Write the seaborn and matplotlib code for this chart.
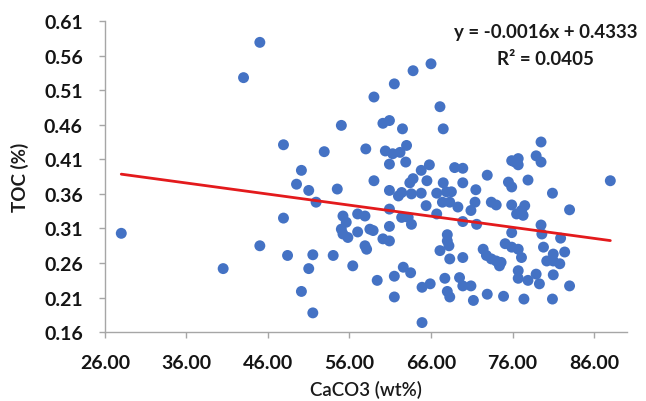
import matplotlib
matplotlib.use("Agg")
import matplotlib.pyplot as plt
import numpy as np
import pandas as pd
import seaborn as sns

# CaCO3 content (wt%) of each sample
caco3 = [
    28.0, 40.5, 43.0, 45.0, 45.0, 47.9, 47.9, 48.4, 49.5, 50.1,
    50.1, 51.0, 51.0, 51.5, 51.5, 51.9, 52.9, 54.0, 54.5, 55.0,
    55.2, 55.6, 55.0, 55.2, 55.8, 56.4, 57.0, 57.9, 57.0, 58.0,
    58.5, 58.9, 57.9, 58.1, 59.0, 59.0, 59.4, 60.1, 60.9, 60.1,
    60.9, 60.4, 61.3, 62.2, 63.0, 60.9, 60.9, 60.9, 60.9, 61.5,
    61.5, 61.5, 62.0, 62.4, 62.4, 63.2, 63.6, 62.5, 62.6, 63.5,
    62.9, 63.8, 63.8, 63.4, 63.6, 64.8, 64.8, 64.9, 64.9, 65.5,
    65.4, 65.8, 65.9, 66.0, 66.7, 66.7, 67.1, 67.1, 67.5, 67.5,
    67.7, 67.9, 67.4, 68.0, 68.0, 68.2, 68.3, 68.0, 68.3, 68.5,
    68.3, 68.9, 69.3, 69.5, 69.9, 69.9, 69.9, 69.9, 69.9, 70.9,
    70.9, 71.2, 71.4, 71.5, 71.6, 72.4, 72.8, 72.9, 72.9, 73.4,
    73.4, 74.0, 74.0, 74.6, 74.4, 74.9, 75.1, 75.5, 75.9, 75.9,
    75.9, 75.9, 75.9, 76.3, 76.5, 76.7, 76.7, 76.7, 76.7, 76.7,
    77.1, 77.1, 77.3, 77.4, 77.5, 77.9, 77.9, 78.9, 78.9, 79.3,
    79.5, 79.5, 79.5, 79.6, 79.8, 80.2, 80.9, 80.9, 81.0, 81.0,
    81.0, 81.8, 81.9, 82.4, 83.0, 83.0, 88.0,
]

# Total organic carbon (%) of the same samples
toc = [
    0.303, 0.252, 0.528, 0.579, 0.285, 0.431, 0.325, 0.271, 0.374, 0.394,
    0.219, 0.365, 0.252, 0.272, 0.188, 0.348, 0.421, 0.271, 0.367, 0.459,
    0.328, 0.319, 0.309, 0.302, 0.297, 0.256, 0.331, 0.328, 0.305, 0.425,
    0.309, 0.307, 0.285, 0.280, 0.500, 0.379, 0.235, 0.462, 0.466, 0.295,
    0.292, 0.422, 0.418, 0.420, 0.430, 0.403, 0.365, 0.338, 0.313, 0.519,
    0.241, 0.211, 0.357, 0.362, 0.326, 0.326, 0.316, 0.454, 0.254, 0.246,
    0.406, 0.538, 0.382, 0.376, 0.360, 0.394, 0.361, 0.225, 0.174, 0.379,
    0.343, 0.402, 0.230, 0.548, 0.361, 0.331, 0.486, 0.278, 0.454, 0.376,
    0.238, 0.363, 0.348, 0.301, 0.292, 0.285, 0.266, 0.219, 0.211, 0.363,
    0.348, 0.398, 0.341, 0.239, 0.397, 0.376, 0.320, 0.268, 0.227, 0.227,
    0.336, 0.206, 0.348, 0.366, 0.316, 0.280, 0.271, 0.387, 0.215, 0.348,
    0.266, 0.344, 0.263, 0.261, 0.256, 0.212, 0.288, 0.377, 0.408, 0.370,
    0.344, 0.304, 0.283, 0.406, 0.331, 0.411, 0.402, 0.280, 0.249, 0.238,
    0.336, 0.268, 0.329, 0.208, 0.343, 0.380, 0.235, 0.415, 0.244, 0.230,
    0.435, 0.406, 0.315, 0.302, 0.283, 0.263, 0.361, 0.208, 0.273, 0.263,
    0.243, 0.259, 0.296, 0.276, 0.337, 0.227, 0.379,
]

# Linear trend line as reported
slope = -0.0016
intercept = 0.4333
r_squared = 0.0405

x_ticks = [26, 36, 46, 56, 66, 76, 86]
y_ticks = [0.16, 0.21, 0.26, 0.31, 0.36, 0.41, 0.46, 0.51, 0.56, 0.61]

sns.set_style("white")
plt.rcParams["font.family"] = ["Lato", "DejaVu Sans"]

df = pd.DataFrame({"CaCO3": caco3, "TOC": toc})

fig = plt.figure(figsize=(6.46, 4.02), dpi=100)
ax = fig.add_axes([0.1625, 0.171, 0.8075, 0.7745])

sns.scatterplot(data=df, x="CaCO3", y="TOC", ax=ax, color="#4472C4",
                s=62, edgecolor="none", linewidth=0, zorder=3)

xs = np.array([min(caco3), max(caco3)])
ax.plot(xs, slope * xs + intercept, color="#E31A1C", lw=2.0, zorder=4)

ax.set_xlim(26, 90)
ax.set_ylim(0.16, 0.61)
ax.set_xticks(x_ticks)
ax.set_yticks(y_ticks)
ax.set_xticklabels([f"{v:.2f}" for v in x_ticks])
ax.set_yticklabels([f"{v:.2f}" for v in y_ticks])

for lab in ax.get_xticklabels() + ax.get_yticklabels():
    lab.set_fontweight("bold")
    lab.set_fontsize(14)
    lab.set_color("#141414")

ax.tick_params(axis="both", which="major", length=4, width=1,
               color="#A6A6A6", direction="out", pad=12,
               bottom=True, left=True)

for side in ["top", "right"]:
    ax.spines[side].set_visible(False)
for side in ["left", "bottom"]:
    ax.spines[side].set_color("#A6A6A6")
    ax.spines[side].set_linewidth(1.0)

ax.set_xlabel("CaCO3 (wt%)", fontsize=13.5, fontweight="semibold",
              color="#1a1a1a")
ax.set_ylabel("TOC (%)", fontsize=13.5, fontweight="bold",
              color="#1a1a1a")
ax.xaxis.set_label_coords(0.5, -0.152)
ax.yaxis.set_label_coords(-0.145, 0.5)

sign = "-" if intercept < 0 else "+"
fig.text(0.845, 0.918, f"y = {slope:.4f}x {sign} {abs(intercept):.4f}",
         ha="center", va="center", fontsize=13.5, fontweight="bold",
         color="#1a1a1a")
fig.text(0.845, 0.851, f"R\u00b2 = {r_squared:.4f}",
         ha="center", va="center", fontsize=13.5, fontweight="bold",
         color="#1a1a1a")

fig.savefig("out.png", dpi=100)
